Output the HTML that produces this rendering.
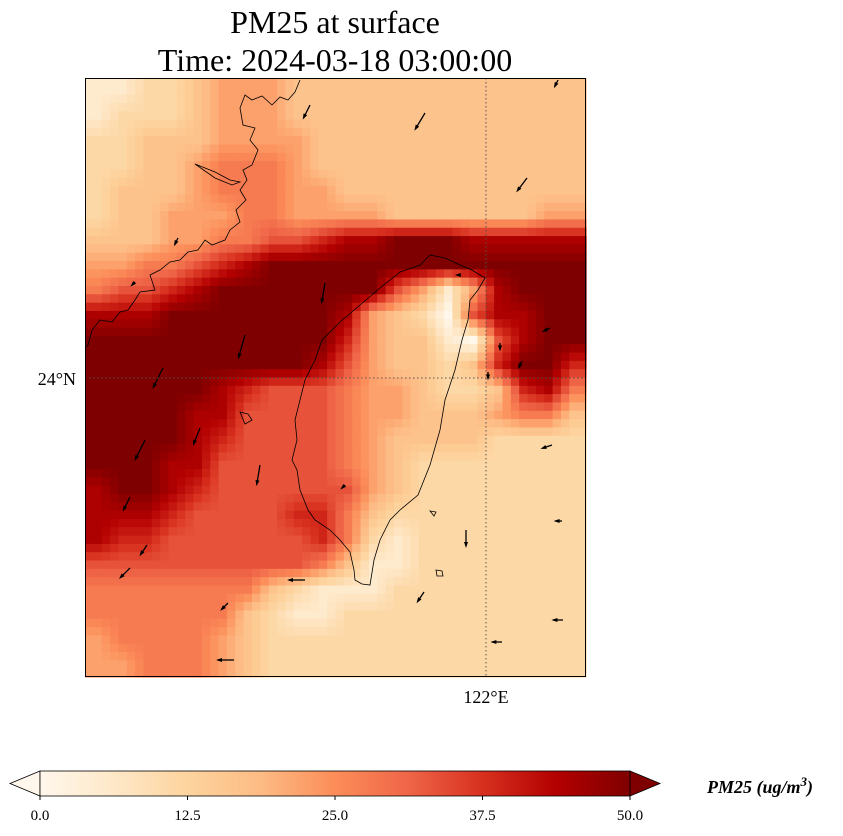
<!DOCTYPE html>
<html><head><meta charset="utf-8">
<style>
body{margin:0;background:#fff;width:843px;height:836px;overflow:hidden;font-family:"Liberation Serif",serif;}
svg{position:absolute;left:0;top:0}
</style></head>
<body>
<svg id="chart" width="843" height="836">
<text x="335" y="33" text-anchor="middle" font-size="32" font-family="Liberation Serif, serif">PM25 at surface</text>
<text x="335" y="71" text-anchor="middle" font-size="32" font-family="Liberation Serif, serif">Time: 2024-03-18 03:00:00</text>
<g id="cells"></g>
<g id="coast" fill="none" stroke="#000" stroke-width="0.8">
<path d="M430,255 L445,258 L460,265 L472,270 L485,278 L478,290 L470,300 L468,320 L462,340 L455,370 L445,400 L440,430 L430,465 L418,495 L400,510 L390,520 L380,540 L374,560 L370,585 L362,584 L355,580 L354,570 L350,552 L340,540 L330,530 L315,520 L308,510 L300,490 L297,470 L292,460 L297,440 L295,420 L300,400 L305,380 L315,360 L322,340 L340,322 L360,305 L380,288 L400,272 L420,265 Z"/>
<path d="M300,80 L295,92 L288,100 L280,97 L272,105 L262,96 L252,100 L245,95 L240,108 L243,125 L255,128 L250,140 L258,150 L252,165 L243,170 L247,180 L240,190 L246,200 L236,210 L240,222 L230,230 L225,240 L212,245 L205,240 L198,250 L188,252 L180,260 L170,262 L160,270 L150,275 L155,290 L140,292 L135,300 L128,310 L120,312 L112,322 L100,320 L92,330 L88,345 L85,348"/>
<path d="M195,164 L215,172 L230,180 L240,182 L232,185 L215,178 Z"/>
<path d="M240,412 L248,414 L252,420 L245,424 Z"/>
<path d="M430,511 L436,512 L434,516 Z"/>
<path d="M436,570 L442,571 L443,576 L437,576 Z"/>
</g>
<g id="arrows"></g>
<line x1="486" y1="78" x2="486" y2="677" stroke="#555" stroke-width="1" stroke-dasharray="1.5,2.5"/>
<line x1="85" y1="378" x2="586" y2="378" stroke="#555" stroke-width="1" stroke-dasharray="1.5,2.5"/>
<rect x="85.5" y="78.5" width="500" height="598" fill="none" stroke="#000" stroke-width="1"/>
<text x="76" y="385" text-anchor="end" font-size="18">24°N</text>
<text x="486" y="703" text-anchor="middle" font-size="18">122°E</text>
<defs><linearGradient id="cbg" x1="0" x2="1" y1="0" y2="0">
<stop offset="0" stop-color="#fff7ec"/><stop offset="0.125" stop-color="#fee8c8"/><stop offset="0.25" stop-color="#fdd49e"/><stop offset="0.375" stop-color="#fdbb84"/><stop offset="0.5" stop-color="#fc8d59"/><stop offset="0.625" stop-color="#ef6548"/><stop offset="0.75" stop-color="#d7301f"/><stop offset="0.875" stop-color="#b30000"/><stop offset="1" stop-color="#7f0000"/></linearGradient></defs>
<g>
<polygon points="40,771 10,783.5 40,796" fill="#fff7ec" stroke="#000" stroke-width="0.8"/>
<polygon points="630,771 660,783.5 630,796" fill="#7f0000" stroke="#000" stroke-width="0.8"/>
<rect x="40" y="771" width="590" height="25" fill="url(#cbg)" stroke="#000" stroke-width="0.8"/>
<g id="cbticks" font-size="15"></g>
</g>
<text x="707" y="793" font-size="18" font-weight="bold" font-style="italic">PM25 (ug/m<tspan dy="-7" font-size="13">3</tspan><tspan dy="7">)</tspan></text>
</svg>
<script>
// PM25 grid, rows top->bottom, digit d -> value d*50/9
const gridRows = [
"11223444333333333333",
"12223444333333333333",
"22333444433333333333",
"22334555433333333333",
"23334555443333333333",
"23344455444433333344",
"33344556678899988888",
"44556789999999999999",
"56678999999964148999",
"88899999998432068899",
"99999999997433106899",
"99999999986433237997",
"99999876665443223785",
"99998866665443334553",
"99998766665433332222",
"99988666665432222222",
"89987666666432222222",
"88876666775322222222",
"87766666675212222222",
"66666666653112222222",
"55555553211122222222",
"55555532112222222222",
"45555432222222222222",
"44555432222222222222"
];
const cbTicks = [0, 12.5, 25, 37.5, 50];
const cbTickLabels = ["0.0","12.5","25.0","37.5","50.0"];
const windX = [425,527,310,558,178,135,325,245,163,460,550,500,522,488,145,200,260,130,147,130,228,305,234,466,424,552,562,502,563,345];
const windY = [113,178,105,80,238,282,283,335,368,275,328,343,361,372,440,428,465,497,545,568,603,580,660,530,592,445,521,642,620,485];
const windU = [-3,-3,-2,-1,-1,-1,-1,-2,-3,-1,-2,0,-1,0,-3,-2,-1,-2,-2,-3,-2,-5,-5,0,-2,-3,-2,-3,-3,-1];
const windV = [5,4,4,2,2,1,6,7,6,0,1,2,2,2,6,5,6,4,3,3,2,0,0,5,3,1,0,0,0,1];

const X0=85,Y0=78,W=501,H=599,VMAX=50,SUB=3;
const nR=gridRows.length,nC=gridRows[0].length;
const vals=gridRows.map(row=>[...row].map(ch=>+ch*VMAX/9));
const xAt=c=>X0+c*W/nC, yAt=r=>Y0+r*H/nR;
const stops=["#fff7ec","#fee8c8","#fdd49e","#fdbb84","#fc8d59","#ef6548","#d7301f","#b30000","#7f0000"].map(h=>[1,3,5].map(i=>parseInt(h.substr(i,2),16)));
function cmap(v){let t=Math.max(0,Math.min(1,v/VMAX))*(stops.length-1);let i=Math.min(stops.length-2,Math.floor(t)),f=t-i;
 const c=stops[i].map((a,k)=>Math.round(a+(stops[i+1][k]-a)*f));return `rgb(${c})`;}
function sample(fr,fc){
 fr=Math.max(0,Math.min(nR-1,fr));fc=Math.max(0,Math.min(nC-1,fc));
 const r0=Math.min(nR-2,Math.floor(fr)),c0=Math.min(nC-2,Math.floor(fc)),a=fr-r0,b=fc-c0;
 return vals[r0][c0]*(1-a)*(1-b)+vals[r0][c0+1]*(1-a)*b+vals[r0+1][c0]*a*(1-b)+vals[r0+1][c0+1]*a*b;}
const NS="http://www.w3.org/2000/svg";
const cells=document.getElementById('cells');
for(let r=0;r<nR*SUB;r++)for(let c=0;c<nC*SUB;c++){
 const v=sample((r+0.5)/SUB-0.5,(c+0.5)/SUB-0.5);
 const el=document.createElementNS(NS,'rect');
 el.setAttribute('x',xAt(c/SUB));el.setAttribute('y',yAt(r/SUB));
 el.setAttribute('width',W/nC/SUB+0.6);el.setAttribute('height',H/nR/SUB+0.6);
 el.setAttribute('fill',cmap(v));
 
 
 cells.appendChild(el);}
const arrows=document.getElementById('arrows');
windX.forEach((x,i)=>{
 const u=windU[i],v=windV[i],L=Math.hypot(u,v)*3.2,a=Math.atan2(v,u);
 const x2=x+Math.cos(a)*L,y2=windY[i]+Math.sin(a)*L;
 const g=document.createElementNS(NS,'g');
 
 
 const ln=document.createElementNS(NS,'line');
 ln.setAttribute('x1',x);ln.setAttribute('y1',windY[i]);ln.setAttribute('x2',x2);ln.setAttribute('y2',y2);
 ln.setAttribute('stroke','#000');ln.setAttribute('stroke-width','1.3');
 const hd=document.createElementNS(NS,'polygon');
 const px=-Math.sin(a),py=Math.cos(a),hb=4;
 hd.setAttribute('points',`${x2+Math.cos(a)*2},${y2+Math.sin(a)*2} ${x2-Math.cos(a)*hb+px*2},${y2-Math.sin(a)*hb+py*2} ${x2-Math.cos(a)*hb-px*2},${y2-Math.sin(a)*hb-py*2}`);
 hd.setAttribute('fill','#000');
 g.appendChild(ln);g.appendChild(hd);arrows.appendChild(g);});
const cbt=document.getElementById('cbticks');
cbTicks.forEach((t,i)=>{
 const x=40+t/VMAX*590;
 const tk=document.createElementNS(NS,'line');
 tk.setAttribute('x1',x);tk.setAttribute('x2',x);tk.setAttribute('y1',796);tk.setAttribute('y2',800);tk.setAttribute('stroke','#000');
 
 
 cbt.appendChild(tk);
 const tx=document.createElementNS(NS,'text');
 tx.setAttribute('x',x);tx.setAttribute('y',820);tx.setAttribute('text-anchor','middle');
 tx.textContent=cbTickLabels[i];
 
 
 cbt.appendChild(tx);});
</script>
</body></html>
